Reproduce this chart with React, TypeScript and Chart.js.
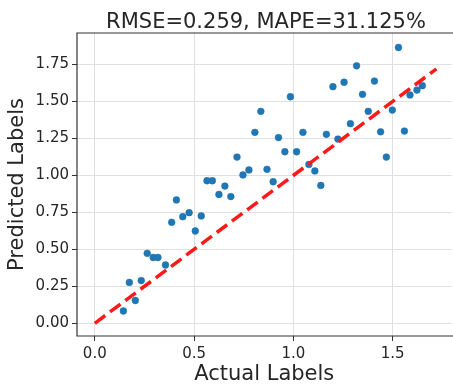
import React, { useEffect, useRef } from "react";
import { Chart, registerables } from "chart.js";

Chart.register(...registerables);

const titleText = "RMSE=0.259, MAPE=31.125%";
const xTitle = "Actual Labels";
const yTitle = "Predicted Labels";

const actual = [0.144,0.174,0.204,0.234,0.264,0.294,0.318,0.356,0.387,0.411,0.443,0.475,0.506,0.536,0.565,0.592,0.625,0.655,0.685,0.716,0.746,0.776,0.806,0.836,0.867,0.898,0.925,0.957,0.985,1.016,1.048,1.078,1.108,1.138,1.166,1.199,1.224,1.255,1.287,1.318,1.348,1.377,1.408,1.439,1.468,1.498,1.529,1.559,1.587,1.622,1.649];
const predicted = [0.083,0.276,0.154,0.289,0.473,0.445,0.445,0.394,0.683,0.834,0.721,0.748,0.624,0.726,0.964,0.964,0.871,0.928,0.857,1.124,1.003,1.037,1.291,1.433,1.041,0.957,1.256,1.160,1.532,1.160,1.291,1.074,1.030,0.932,1.278,1.600,1.246,1.630,1.350,1.741,1.548,1.433,1.638,1.295,1.124,1.442,1.865,1.300,1.544,1.577,1.607];

const idealLine = [0, 1.72];

const xTicks = [0, 0.5, 1.0, 1.5];
const xTickLabels = ["0.0", "0.5", "1.0", "1.5"];
const yTicks = [0, 0.25, 0.5, 0.75, 1.0, 1.25, 1.5, 1.75];
const yTickLabels = ["0.00", "0.25", "0.50", "0.75", "1.00", "1.25", "1.50", "1.75"];

const FONT = "'DejaVu Sans', sans-serif";
const TEXT = "#262626";

export default function App() {
  const ref = useRef<HTMLCanvasElement>(null);
  useEffect(() => {
    if (!ref.current) return;
    const framePlugin = {
      id: "frameAndTitle",
      afterDraw(chart: any) {
        const { ctx, chartArea } = chart;
        const { left, top, right, bottom } = chartArea;
        ctx.save();
        ctx.strokeStyle = "#333333";
        ctx.lineWidth = 1.2;
        ctx.beginPath();
        ctx.moveTo(right + 5, top);
        ctx.lineTo(left, top);
        ctx.lineTo(left, bottom);
        ctx.lineTo(right + 5, bottom);
        ctx.stroke();
        ctx.fillStyle = TEXT;
        ctx.font = `21px ${FONT}`;
        ctx.textAlign = "center";
        ctx.textBaseline = "alphabetic";
        ctx.fillText(titleText, 266, 28);
        ctx.restore();
      },
    };
    const chart = new Chart(ref.current, {
      type: "scatter",
      data: {
        datasets: [
          {
            type: "line",
            data: idealLine.map((v) => ({ x: v, y: v })),
            borderColor: "#ff1a1a",
            borderWidth: 3.5,
            borderDash: [13, 6],
            pointRadius: 0,
            fill: false,
          } as any,
          {
            data: actual.map((v, i) => ({ x: v, y: predicted[i] })),
            backgroundColor: "#1f77b4",
            borderColor: "#1f6fa8",
            borderWidth: 0.5,
            pointRadius: 3.4,
          },
        ],
      },
      plugins: [framePlugin],
      options: {
        animation: false,
        responsive: true,
        maintainAspectRatio: false,
        layout: { padding: { top: 33, right: 0, left: 0, bottom: 0 } },
        plugins: { legend: { display: false }, tooltip: { enabled: false }, title: { display: false } },
        scales: {
          x: {
            type: "linear",
            min: -0.0896,
            max: 1.796,
            afterBuildTicks: (s: any) => {
              s.ticks = xTicks.map((v) => ({ value: v }));
            },
            afterFit: (s: any) => {
              s.height = 54;
            },
            ticks: {
              callback: (v: any) => xTickLabels[xTicks.indexOf(Number(v))] ?? "",
              font: { family: FONT, size: 15 },
              color: TEXT,
              padding: 4,
              maxRotation: 0,
              autoSkip: false,
            },
            grid: { color: "#e0e0e0", lineWidth: 1, tickLength: 5, tickColor: "#333333", drawTicks: true },
            border: { display: false },
            title: { display: true, text: xTitle, font: { family: FONT, size: 21 }, color: TEXT, padding: { top: 0, bottom: 3 } },
          },
          y: {
            type: "linear",
            min: -0.086,
            max: 1.963,
            afterBuildTicks: (s: any) => {
              s.ticks = yTicks.map((v) => ({ value: v }));
            },
            afterFit: (s: any) => {
              s.width = 77;
            },
            ticks: {
              callback: (v: any) => yTickLabels[yTicks.indexOf(Number(v))] ?? "",
              font: { family: FONT, size: 15 },
              color: TEXT,
              padding: 3,
              autoSkip: false,
            },
            grid: { color: "#e0e0e0", lineWidth: 1, tickLength: 5, tickColor: "#333333", drawTicks: true },
            border: { display: false },
            title: { display: true, text: yTitle, font: { family: FONT, size: 21 }, color: TEXT, padding: { top: 5, bottom: 0 } },
          },
        },
      },
    });
    return () => chart.destroy();
  }, []);
  return (
    <div style={{ position: "fixed", left: 0, top: 0, width: 453, height: 390, overflow: "hidden", background: "#fff" }}>
      <div style={{ position: "relative", width: 456, height: 390 }}>
        <canvas ref={ref} />
      </div>
    </div>
  );
}
